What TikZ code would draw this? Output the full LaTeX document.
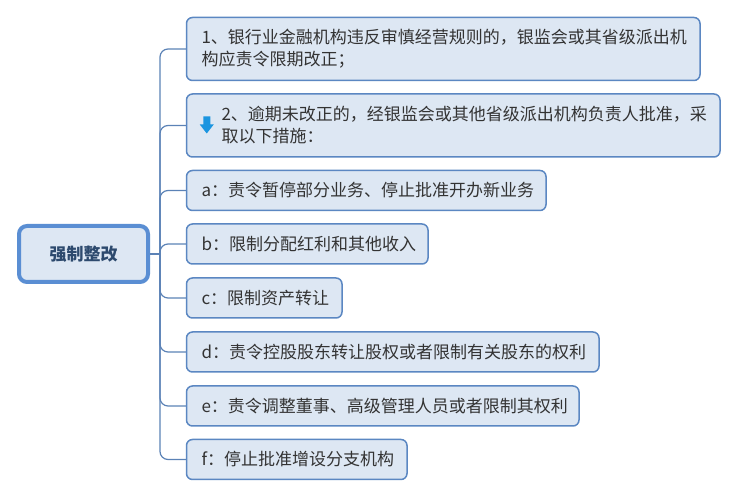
\documentclass[tikz,border=0pt]{standalone}
\usepackage{fontspec}
\usepackage{xcolor}
\usepackage{tikz}
\usetikzlibrary{positioning,calc}
\newfontfamily\cjk{Noto Sans CJK SC}
\definecolor{boxfill}{HTML}{DDE7F3}
\definecolor{boxline}{HTML}{5B87C2}
\definecolor{rootline}{HTML}{5A8ED3}
\definecolor{roottext}{HTML}{2D4A6E}
\definecolor{txtgray}{HTML}{333333}
\definecolor{connline}{HTML}{5B82B6}
\definecolor{iconblue}{HTML}{1B95E0}

\begin{document}
\begin{tikzpicture}[
 x=1pt,y=1pt,
 box/.style={draw=boxline,fill=boxfill,line width=1.5pt,rounded corners=6pt,inner xsep=15pt,inner ysep=6pt,align=left,minimum height=40pt,font=\cjk\fontsize{17}{22}\selectfont,text=txtgray},
 twoline/.style={inner ysep=3pt,minimum height=63pt},
 rootbox/.style={draw=rootline,fill=boxfill,line width=4pt,rounded corners=8pt,minimum width=129pt,minimum height=56pt,font=\cjk\bfseries\fontsize{17}{22}\selectfont,text=roottext},
 conn/.style={draw=connline,line width=1.2pt,rounded corners=8pt}
]
\useasboundingbox (0,0) rectangle (737,498);
\node[rootbox] (root) at (83.5,244) {强制整改};
\coordinate (hub) at ($(root.east)+(10,0)$);
\node[box,twoline,anchor=north west,text width=483.5pt] (b1) at (185.75,481.25) {1、银行业金融机构违反审慎经营规则的，银监会或其省级派出机\\构应责令限期改正；};
\node[box,twoline,below=12pt of b1.south west,anchor=north west,text width=503.5pt] (b2) {\hspace*{20pt}2、逾期未改正的，经银监会或其他省级派出机构负责人批准，采\\\hspace*{20pt}取以下措施：};
\node[box,below=12pt of b2.south west,anchor=north west,text width=329.5pt] (ba) {a：责令暂停部分业务、停止批准开办新业务};
\node[box,below=12pt of ba.south west,anchor=north west,text width=211.5pt] (bb) {b：限制分配红利和其他收入};
\node[box,below=12.5pt of bb.south west,anchor=north west,text width=125.5pt] (bc) {c：限制资产转让};
\node[box,below=12.5pt of bc.south west,anchor=north west,text width=382.5pt] (bd) {d：责令控股股东转让股权或者限制有关股东的权利};
\node[box,below=12.5pt of bd.south west,anchor=north west,text width=362.5pt] (be) {e：责令调整董事、高级管理人员或者限制其权利};
\node[box,below=12pt of be.south west,anchor=north west,text width=190.5pt] (bf) {f：停止批准增设分支机构};
% down arrow icon in the second box
\fill[iconblue] ($(b2.west)+(17.5,9)$) -- ++(7,0) -- ++(0,-8) -- ++(3.5,0) -- ++(-7,-9) -- ++(-7,9) -- ++(3.5,0) -- cycle;
\draw[conn] (root.east) -- (hub);
\foreach \b in {b1,b2,ba,bb,bc,bd,be,bf} \draw[conn] (hub) |- (\b.west);
\end{tikzpicture}
\end{document}
